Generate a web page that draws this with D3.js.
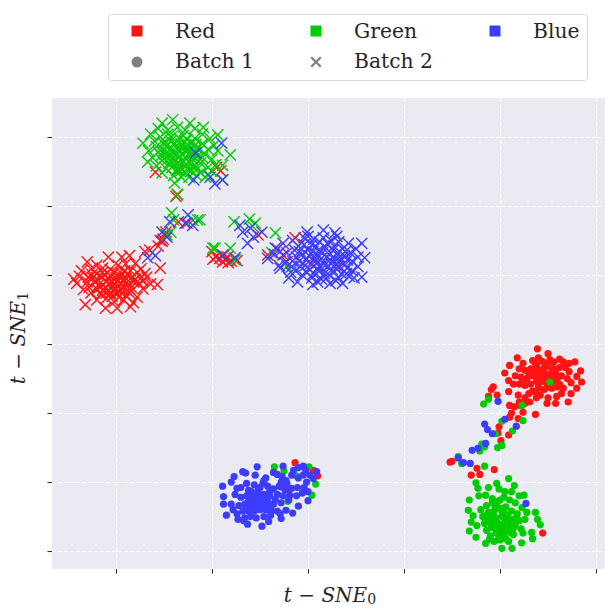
<!DOCTYPE html>
<html lang="en">
<head>
<meta charset="UTF-8">
<title>t-SNE batches</title>
<script src="https://d3js.org/d3.v7.min.js"></script>
<style>
    body { margin: 0; background: #fff; }
    svg { display: block; }
    text { font-family: "DejaVu Serif", serif; fill: #262626; }
    .grid line { stroke: #fff; stroke-width: 1; stroke-dasharray: 4 2; }
    .grid path, .ticks path { display: none; }
    .ticks line { stroke: #262626; stroke-width: 1; }
</style>
</head>
<body>
<svg width="605" height="608"></svg>
<script>
// values, [tsne0, tsne1]
const xTicks = [-20, -10, 0, 10, 20, 30];
const yTicks = [20, 10, 0, -10, -20, -30, -40];
const colorNames = ["Red", "Green", "Blue"];
const colorValues = ["#ff1414", "#00cc00", "#3c3cff"];

const redBatch2 = [[-23.0,1.9],[-20.8,2.6],[-18.6,2.8],[-19.4,2.6],[-15.4,1.0],[-15.7,-1.4],[-24.1,-1.2],[-23.2,-4.3],[-21.1,-4.8],[-19.9,-4.8],[-18.5,-4.6],[-16.8,-0.3],
[-24.4,-0.6],[-23.6,0.6],[-22.6,0.9],[-22.0,1.4],[-21.4,1.0],[-20.6,0.8],[-19.8,1.4],[-19.0,1.6],[-18.0,1.7],[-17.4,0.9],[-17.0,0.2],[-16.4,-1.3],[-17.2,-2.0],[-17.8,-3.2],[-18.2,-4.0],[-19.2,-3.6],[-20.2,-3.9],[-21.0,-3.4],[-22.0,-3.6],[-22.6,-2.6],[-23.4,-2.1],[-23.0,-1.0],[-22.4,-0.4],[-21.8,-1.4],[-21.4,-2.2],[-20.8,-0.6],[-20.4,-1.6],[-20.0,-0.4],[-19.6,-2.4],[-19.2,-1.0],[-18.8,0.2],[-18.4,-1.8],[-18.0,-0.6],[-21.2,0.0],[-22.0,0.2],[-20.2,0.4],[-19.4,0.2],[-21.6,-2.8],[-20.6,-2.6],[-19.0,-3.0],[-18.6,-2.6],[-17.6,-1.2],[-17.8,0.4],[-22.8,-1.8],[-23.8,-0.2],[-20.4,-1.0],[-20.0,-2.0],[-19.6,-1.2],
[-22.2,-1.0],[-21.9,-0.7],[-21.5,-0.3],[-21.0,-1.0],[-20.7,-1.3],[-20.6,-0.1],[-20.1,-1.3],[-19.8,-0.8],[-19.5,-0.2],[-19.3,-1.6],[-19.0,-0.4],[-18.7,-1.3],[-18.4,-0.4],[-18.2,-1.0],[-22.0,-2.0],[-21.6,-1.7],[-21.1,-1.8],[-20.8,-2.2],[-20.3,-2.3],[-19.9,-2.7],[-19.4,-2.0],[-19.0,-2.1],[-18.6,-2.0],[-21.0,-2.6],[-20.4,-3.1],[-19.7,-3.2],[-21.4,0.4],[-20.9,0.3],[-19.9,0.0],[-19.1,0.6],[-18.5,0.6],[-17.4,-0.4],[-17.2,-0.9],[-22.9,-0.3],[-22.5,0.1],
[-16.5,3.6],[-17.0,3.4],[-15.2,4.9],[-15.4,5.0],[-14.9,5.8],[-15.1,5.2],[-14.8,6.2],[-15.6,4.2],[-13.5,7.7],[-12.6,7.5],[-13.75,11.4],[-13.6,11.7],[-15.9,14.9],[-13.5,15.2],[-9.5,15.6],[-9.1,15.1],
[-9.2,2.4],[-8.9,1.9],[-8.6,2.2],[-8.3,1.8],[-8.0,2.0],[-7.7,2.3],[-9.6,2.6],[-9.9,2.3],[-8.8,2.8],[-7.4,2.1],[-8.4,2.6],[-10.0,3.4],[-4.2,2.9],[-2.6,2.9],[-1.35,5.4],[-5.2,5.8],[-2.2,1.9],[-3.2,3.8],[0.7,1.9],[3.1,1.2]];

const greenBatch2 = [[-8.1,17.4],[-8.9,15.9],[-17.2,19.1],[-14.1,22.5],[-15.2,22],[-12.3,22],[-10.9,21.4],[-9.4,20.3],[-13.9,13.3],[-13.6,11.6],[-15.2,14.8],[-16.7,16.4],[-10.7,14.2],[-8.9,13.8],
[-16.4,20.4],[-15.6,21.2],[-14.6,21.0],[-13.6,21.4],[-12.8,21.0],[-11.8,21.2],[-11.0,20.4],[-10.2,19.8],[-9.8,18.8],[-9.4,18.0],[-16.6,18.0],[-16.0,19.4],[-15.4,20.0],[-14.8,19.2],[-14.2,20.0],[-13.4,19.8],[-12.6,19.6],[-11.8,19.8],[-11.0,19.0],[-10.4,18.2],[-16.2,17.0],[-15.6,17.8],[-15.0,18.0],[-14.4,18.2],[-13.8,18.6],[-13.0,18.4],[-12.4,18.2],[-11.6,18.4],[-10.8,17.6],[-10.0,16.8],[-15.8,15.8],[-15.2,16.6],[-14.6,16.8],[-14.0,17.0],[-13.4,17.2],[-12.8,17.0],[-12.0,16.8],[-11.2,16.2],[-10.4,15.6],[-9.6,16.0],[-14.8,15.4],[-14.2,15.6],[-13.4,15.8],[-12.6,15.4],[-12.0,15.6],[-11.2,14.8],[-10.4,14.6],[-14.0,14.4],[-13.2,14.2],[-12.4,14.2],[-11.6,14.4],[-14.6,20.4],[-13.0,20.2],[-15.8,18.6],[-12.2,17.4],[-13.6,16.2],[-11.0,17.0],[-10.0,15.0],
[-15.1,19.1],[-14.7,18.7],[-14.3,19.4],[-13.9,19.1],[-13.5,18.2],[-13.2,19.0],[-12.9,19.4],[-12.5,18.8],[-12.1,19.1],[-11.7,18.9],[-11.3,18.1],[-15.3,17.3],[-14.9,17.5],[-14.5,17.4],[-14.1,17.7],[-13.7,17.6],[-13.1,17.5],[-12.7,17.9],[-12.3,17.8],[-11.9,17.6],[-11.5,17.2],[-14.5,16.2],[-14.1,16.4],[-13.7,15.2],[-13.1,16.4],[-12.7,16.1],[-12.3,16.3],[-11.8,16.0],[-11.5,15.4],[-13.3,15.0],[-12.8,14.8],[-12.2,15.0],
[-14.2,9],[-14.0,8.0],[-11.5,8],[-12.0,7.9],[-14.7,5.8],[-14.3,6.2],[-9.9,3.9],[-7.7,7.7],[-6.1,8.1],[-5.8,7.1],[-5.5,7.5],[-3.4,6.1],[-9.7,3.9],[-8.1,3.9],[-7.6,2.2],[-3.75,3.2],[-2.2,1.2],[-11.25,8]];

const blueBatch2 = [[-12.5,8.7],[-12.8,7.5],[-14.4,7.7],[-15.2,6.2],[-14.7,5.5],[-12,7.2],[-16.7,2.5],[-15.9,2.8],[-9,19.1],[-11.7,17.7],[-11.9,13.8],[-10.2,14.2],[-9.7,13.2],[-8.9,13.8],
[-7.1,7.2],[-5.7,5.5],[-6.3,4.6],[-4.8,6.2],[-6.8,6.2],[-6.0,6.8],[-8.9,2.9],[-7.6,2.5],[-4.2,2.4],[-3.0,1.4],[-3.5,3.0],[-2.9,3.4],
[-3.4,3.9],[-2.9,1.0],[-1.1,-1],[0.5,-1.4],[1.6,6.5],[-0.1,6.2],[2.8,6.1],[5.6,4.6],[5.6,-0.3],[3.6,-1.2],[2.3,-1.2],[5.9,2.5],
[-2.6,4.6],[-2.2,3.2],[-2.4,1.8],[-1.8,0.4],[-1.6,5.0],[-1.0,4.2],[-1.2,2.6],[-0.8,1.2],[-0.6,0.0],[-0.4,5.4],[0.0,3.6],[-0.2,2.2],[0.2,0.8],[0.4,-0.4],[0.6,5.2],[0.8,4.2],[0.9,3.0],[1.0,1.8],[1.2,0.6],[1.4,-0.6],[1.6,5.4],[1.8,4.0],[2.0,2.6],[2.0,1.2],[2.2,0.0],[2.4,5.0],[2.6,3.6],[2.8,2.4],[3.0,0.8],[3.2,-0.4],[3.2,4.8],[3.6,3.8],[3.8,2.8],[3.8,1.4],[4.0,0.2],[4.2,4.6],[4.4,3.2],[4.6,2.0],[4.6,0.6],[5.0,3.8],[5.2,2.6],[5.2,1.2],[0.4,4.4],[1.4,2.4],[2.4,1.6],[-0.6,3.0],[3.4,2.0],[1.2,4.8],[-1.6,2.0],[4.8,-0.4],[-2.0,-0.4],[3.0,5.6],[0.0,5.6],[1.0,-1.0],
[-1.4,3.6],[-0.9,3.4],[-0.4,4.4],[-0.3,1.4],[0.1,2.8],[0.3,1.7],[0.5,3.4],[0.6,0.2],[0.7,2.4],[1.1,3.6],[1.2,1.2],[1.5,3.2],[1.6,1.6],[1.7,0.2],[2.0,4.6],[2.2,3.0],[2.3,2.2],[2.5,0.8],[2.7,4.2],[2.9,1.6],[3.1,3.2],[3.3,2.6],[3.3,1.2],[3.5,0.2],[3.9,3.4],[4.1,2.2],[4.1,1.0],[-1.7,1.2],[-1.3,0.6],[-0.9,2.0],[-0.1,0.4],[0.9,0.9],[1.9,-0.5],[2.9,-0.8],[4.3,-0.2]];

const redBatch1 = [[23.9,-10.7],[25,-11.4],[21.8,-12],[21,-13.1],[20.5,-14.2],[20.9,-15.3],[19.3,-16.2],[19.1,-16.6],[21.9,-17.4],[18.8,-17.6],[19.7,-17.4],[20.9,-16.9],[28.4,-13.9],[28.5,-15.5],[28,-14.7],[28,-16.4],[27.4,-17.2],[27.1,-18.4],[25.8,-18.6],[24.9,-18.6],[25.9,-17.6],[23.1,-18.4],[23.7,-20.2],[21,-18.9],[21.2,-20],[22.4,-19.9],[21.9,-20.8],[19.9,-22],[19.8,-22.9],[20.9,-23.2],[20.1,-24],[19.4,-28.2],[17.6,-28],[17.9,-28.9],[17,-29],[15,-27],[14.8,-27.1],[24.45,-37.4],
[22.4,-12.8],[23.4,-12.4],[24.0,-12.0],[24.4,-12.5],[25.2,-12.3],[25.6,-12.6],[26.2,-12.2],[26.6,-12.6],[27.2,-12.8],[27.8,-12.6],[22.0,-13.6],[22.6,-13.8],[23.2,-13.6],[23.8,-13.2],[24.6,-13.4],[25.0,-13.2],[25.6,-13.6],[26.2,-13.4],[26.8,-13.4],[27.2,-14.0],[21.6,-14.6],[22.2,-14.8],[22.8,-15.0],[23.4,-14.6],[24.0,-14.4],[24.6,-14.2],[25.2,-14.4],[25.8,-14.2],[26.4,-14.6],[27.0,-15.0],[21.4,-15.8],[22.0,-15.8],[22.6,-16.0],[23.2,-15.8],[23.8,-15.4],[24.4,-15.4],[25.0,-15.2],[25.6,-15.4],[26.2,-15.8],[27.4,-15.6],[23.4,-16.8],[24.0,-16.4],[24.6,-16.6],[25.4,-16.4],[26.0,-16.2],[26.6,-16.4],[23.0,-17.2],[24.2,-17.4],[22.6,-17.8],[23.8,-17.8],[25.0,-17.8],[26.4,-17.2],[22.0,-18.4],[22.6,-18.6],[21.5,-19.1],[21.0,-20.6],[22.1,-18.9],[24.8,-14.8],[24.2,-13.8],
[23.7,-12.9],[24.9,-12.8],[25.4,-14.0],[24.3,-15.0],[23.0,-14.3],[24.0,-15.9],[24.9,-15.9],[22.4,-15.3],[23.5,-13.9],[26.0,-14.9],[25.5,-15.0],[24.9,-16.3],[23.7,-17.0],[-1.35,-27.2],[.55,-28.3],[1,-29.1],[-2.75,-30.7],[-2,-31.1]];

const greenBatch1 = [[25.2,-15.5],[18.8,-18],[18.3,-18.7],[22.3,-18.9],[20.2,-21.2],[22.4,-21.1],[21.3,-22.6],[19.5,-23],[20.2,-24.7],[19.75,-25],[18.1,-24.5],[18.4,-24.9],[17.9,-25.5],[15.65,-26.3],[16,-27.3],[18.4,-27.7],
[20.9,-29.5],[17.5,-30.1],[19.65,-30.2],[18.8,-30.8],[17.7,-30.9],[21.5,-30.5],[17.8,-32],[16.8,-32.6],[16.7,-34.1],[17.2,-34.9],[17,-35.8],[17.6,-36.3],[16.8,-37.1],[17.5,-38],[18.5,-38.9],[20.2,-39.6],[21.25,-39.6],[22.25,-38.8],[23.4,-38.2],[23.3,-37.3],[24.2,-36.2],[23.9,-35.4],[23.7,-34.4],[22.8,-34.4],[22.3,-33.7],[22.5,-31.9],[22,-32],[20.5,-31.4],[19.2,-32.4],[18.5,-31.9],
[18.0,-34.0],[18.6,-33.4],[19.2,-33.0],[19.8,-32.8],[20.4,-32.2],[21.0,-32.6],[21.6,-33.0],[18.2,-35.0],[18.8,-34.4],[19.4,-34.2],[20.0,-33.8],[20.6,-33.6],[21.2,-34.2],[21.8,-34.6],[18.4,-36.0],[19.0,-35.6],[19.6,-35.2],[20.2,-35.0],[20.8,-34.8],[21.4,-35.4],[22.0,-35.6],[22.6,-35.4],[18.6,-37.0],[19.2,-36.6],[19.8,-36.4],[20.4,-36.0],[21.0,-36.2],[21.6,-36.4],[22.2,-36.8],[19.0,-37.8],[19.6,-37.4],[20.2,-37.2],[20.8,-37.0],[21.4,-37.6],[22.4,-37.4],[19.4,-38.6],[20.0,-38.4],[20.6,-38.2],[18.9,-38.3],[20.9,-38.6],[19.2,-35.0],[20.4,-34.4],[21.0,-35.6],[19.8,-36.0],[20.6,-37.0],[18.6,-34.8],[20.0,-32.6],[21.2,-31.4],[19.9,-31.0],
[19.5,-33.6],[20.2,-34.2],[19.1,-36.2],[19.6,-36.0],[20.1,-36.7],[20.7,-35.4],[21.3,-36.9],[20.4,-37.7],[19.9,-37.9],[21.1,-37.3],[18.5,-35.6],[21.7,-35.2],[-3.5,-27.8],[-2.5,-28.4],[-1.2,-29.1],[.1,-27.8],[.8,-30.3],[.4,-31.9],[-2.1,-32.8]];

const blueBatch1 = [[19.8,-18.3],[20.5,-20.9],[21.7,-21.9],[18.4,-21.6],[18.7,-22.4],[19.2,-23],[18.5,-24.4],[17.7,-25.1],[17.1,-25.4],[15.65,-26.5],[16.2,-27.2],[16.9,-27.3],[22.7,-33.1],
[-5.3,-27.8],[-2.6,-27.7],[-3.6,-28.6],[-8.9,-30.6],[-8,-30],[-7.7,-29.2],[-6.8,-28.5],[-6.5,-28.7],[-5.5,-29],[-4.4,-29.4],[-2.7,-29.2],[-1.7,-29],[-1.5,-28.3],[-1,-27.9],[-.5,-27.7],[-.25,-28.3],[.9,-28.5],[.55,-29.5],[-.15,-30],[-8.8,-32.1],[-8.8,-33.2],[-8.5,-34.8],[-7.8,-34],[-7.3,-35.4],[-6.3,-36.1],[-4.8,-36.4],[-4.1,-35.7],[-2.8,-35.3],[-2.3,-34.1],[-1.6,-34.5],[-1,-33.5],[0,-32.7],[-.6,-31.6],[0,-31.4],[-1.1,-30.8],[-1.7,-30.9],
[-6.4,-30.2],[-6.2,-31.2],[-5.6,-30.4],[-5.0,-30.8],[-4.2,-30.6],[-3.6,-31.0],[-2.8,-30.0],[-2.2,-30.2],[-7.6,-31.8],[-7.0,-32.2],[-6.4,-32.0],[-5.8,-32.0],[-5.2,-31.8],[-4.6,-31.8],[-4.0,-32.0],[-3.2,-31.8],[-2.6,-32.0],[-8.0,-33.2],[-7.2,-33.4],[-6.6,-33.2],[-6.0,-33.0],[-5.4,-33.0],[-4.8,-33.0],[-4.2,-32.8],[-3.6,-33.2],[-2.8,-33.0],[-2.0,-32.6],[-7.4,-34.6],[-6.8,-34.2],[-6.2,-34.2],[-5.6,-34.2],[-5.0,-34.0],[-4.4,-34.0],[-3.8,-34.2],[-3.2,-34.2],[-6.6,-35.2],[-6.0,-35.0],[-5.4,-35.2],[-4.6,-35.0],[-3.9,-34.8],[-2.9,-34.6],[-6.7,-35.6],[-5.2,-31.2],[-4.4,-32.4],[-5.4,-33.6],[-6.2,-32.8],[-4.0,-31.4],[-1.9,-31.9],[-1.2,-32.0],[-3.0,-30.6],
[-5.9,-31.4],[-5.5,-32.5],[-4.9,-32.3],[-4.5,-33.5],[-3.9,-33.6],[-5.1,-33.5],[-5.7,-33.7],[-6.4,-33.7],[-7.0,-30.8],[-4.7,-30.2],[-3.4,-32.5],[-2.4,-31.1],[-0.5,-29.0],[-1.0,-29.4],[0.2,-29.0],[-0.4,-30.8],[-2.3,-29.8],[-7.4,-30.9],[-4.6,-29.8],[-3.2,-28.9]];

const margin = {top: 98, right: 0, bottom: 39, left: 52};
const width = 605 - margin.left - margin.right;
const height = 608 - margin.top - margin.bottom;

let svg = d3.select("svg");

const x = d3.scaleLinear().domain([-26.67, 30.94]).range([0, width]);
const y = d3.scaleLinear().domain([25.65, -42.6]).range([0, height]);

let g = svg.append("g").attr("transform", `translate(${margin.left},${margin.top})`);

g.append("rect").attr("width", width).attr("height", height).attr("fill", "#eaeaf2");

// gridlines
g.append("g").attr("class", "grid")
    .call(d3.axisBottom(x).tickValues(xTicks).tickSize(height).tickFormat(""));
g.append("g").attr("class", "grid")
    .call(d3.axisLeft(y).tickValues(yTicks).tickSize(-width).tickFormat(""));

// outside tick marks
g.append("g").attr("class", "ticks").attr("transform", `translate(0,${height})`)
    .call(d3.axisBottom(x).tickValues(xTicks).tickSize(4.5).tickFormat(""));
g.append("g").attr("class", "ticks")
    .call(d3.axisLeft(y).tickValues(yTicks).tickSize(4.5).tickFormat(""));

// markers
const crossPath = d3.symbol().type(d3.symbolTimes).size(84);
function drawCrosses(points, color) {
    g.append("g").selectAll("path").data(points).enter().append("path")
        .attr("d", crossPath)
        .attr("transform", d => `translate(${x(d[0])},${y(d[1])})`)
        .attr("fill", "none")
        .attr("stroke", color)
        .attr("stroke-width", 1.4);
}
function drawDots(points, color) {
    g.append("g").selectAll("circle").data(points).enter().append("circle")
        .attr("cx", d => x(d[0]))
        .attr("cy", d => y(d[1]))
        .attr("r", 3.6)
        .attr("fill", color);
}

drawDots(redBatch1, colorValues[0]);
drawCrosses(redBatch2, colorValues[0]);
drawDots(greenBatch1, colorValues[1]);
drawCrosses(greenBatch2, colorValues[1]);
drawDots(blueBatch1, colorValues[2]);
drawCrosses(blueBatch2, colorValues[2]);

// axis labels
const xLabel = svg.append("text").attr("x", 330).attr("y", 602)
    .attr("text-anchor", "middle").attr("font-size", 20);
xLabel.append("tspan").attr("font-style", "italic").text("t");
xLabel.append("tspan").text(" \u2212 ");
xLabel.append("tspan").attr("font-style", "italic").text("SNE");
xLabel.append("tspan").attr("font-size", 14).attr("dy", 2).text("0");

const yLabel = svg.append("text").attr("transform", "translate(25,338) rotate(-90)")
    .attr("text-anchor", "middle").attr("font-size", 20);
yLabel.append("tspan").attr("font-style", "italic").text("t");
yLabel.append("tspan").text(" \u2212 ");
yLabel.append("tspan").attr("font-style", "italic").text("SNE");
yLabel.append("tspan").attr("font-size", 14).attr("dy", 3).text("1");

// legend
let legend = svg.append("g");
legend.append("rect").attr("x", 108.5).attr("y", 14.5).attr("width", 479).attr("height", 66)
    .attr("rx", 3).attr("fill", "#fff").attr("stroke", "#d9d9d9");

const colX = [137, 316, 495];
const rowY = [31, 62];
colorNames.forEach(function (name, i) {
    legend.append("rect").attr("x", colX[i] - 5.5).attr("y", rowY[0] - 5.5)
        .attr("width", 11).attr("height", 11).attr("fill", colorValues[i]);
    legend.append("text").attr("x", colX[i] + 38).attr("y", rowY[0] + 7)
        .attr("font-size", 20.3).text(name);
});
legend.append("circle").attr("cx", colX[0]).attr("cy", rowY[1]).attr("r", 5.5).attr("fill", "#808080");
legend.append("path").attr("d", d3.symbol().type(d3.symbolTimes).size(60))
    .attr("transform", `translate(${colX[1]},${rowY[1]})`)
    .attr("fill", "none").attr("stroke", "#808080").attr("stroke-width", 2.2);
legend.append("text").attr("x", colX[0] + 38).attr("y", rowY[1] + 6).attr("font-size", 20.3).text("Batch 1");
legend.append("text").attr("x", colX[1] + 38).attr("y", rowY[1] + 6).attr("font-size", 20.3).text("Batch 2");
</script>
</body>
</html>
